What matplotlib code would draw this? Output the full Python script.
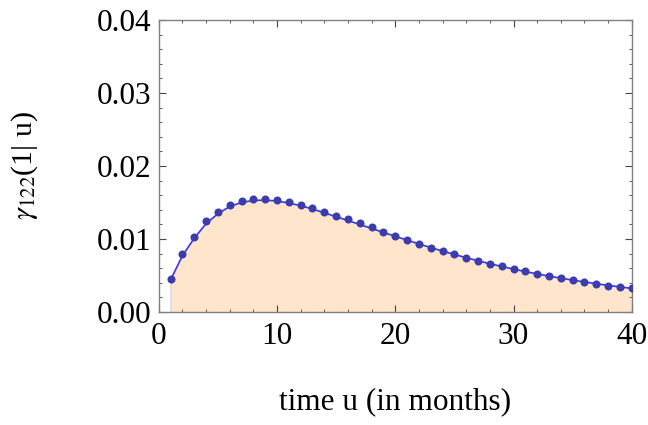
import numpy as np
import matplotlib.pyplot as plt
from matplotlib.ticker import MultipleLocator

# monthly time grid
months = list(range(1, 41))

# observed values (dots)
observed = [0.00448, 0.0079, 0.0103, 0.0124, 0.01366, 0.01466, 0.0152, 0.01548,
            0.01548, 0.01534, 0.01502, 0.01466, 0.0142, 0.01366, 0.0132, 0.01274,
            0.01215, 0.0116, 0.0110, 0.01045, 0.00986, 0.00936, 0.0088, 0.0084,
            0.00795, 0.00744, 0.00703, 0.00662, 0.00626, 0.00589, 0.00557, 0.00525,
            0.00493, 0.00462, 0.00438, 0.00415, 0.00388, 0.00356, 0.00342, 0.00325]

# fitted curve values
fitted = [0.00440, 0.0077, 0.0101, 0.0121, 0.01345, 0.01445, 0.0150, 0.01528,
          0.01532, 0.01520, 0.01492, 0.01456, 0.01410, 0.01358, 0.01305, 0.01252,
          0.01198, 0.01144, 0.01090, 0.01036, 0.00984, 0.00932, 0.00882, 0.00834,
          0.00788, 0.00743, 0.00701, 0.00661, 0.00623, 0.00587, 0.00553, 0.00521,
          0.00491, 0.00463, 0.00436, 0.00411, 0.00387, 0.00364, 0.00343, 0.00322]

plt.rcParams['font.family'] = ['Liberation Serif', 'DejaVu Serif']
plt.rcParams['mathtext.fontset'] = 'stix'

fig = plt.figure(figsize=(6.48, 4.25), dpi=100)
ax = fig.add_axes([0.245, 0.266, 0.730, 0.687])

ax.fill_between(months, fitted, 0, color='#ffe5cc', linewidth=0)
ax.plot([months[0], months[0]], [0, fitted[0]], color='#d8d8f4', lw=1.2)
ax.plot(months, fitted, color='#3434f4', lw=1.2, zorder=3)
ax.plot(months, observed, 'o', color='#3c3caa', ms=5.8, mew=0, zorder=4)

ax.set_xlim(0, 40)
ax.set_ylim(0, 0.04)
ax.xaxis.set_major_locator(MultipleLocator(10))
ax.xaxis.set_minor_locator(MultipleLocator(2))
ax.yaxis.set_major_locator(MultipleLocator(0.01))
ax.yaxis.set_minor_locator(MultipleLocator(0.002))
ax.yaxis.set_major_formatter(plt.FuncFormatter(lambda v, p: f'{v:.2f}'))

for s in ax.spines.values():
    s.set_color('#808080')
    s.set_linewidth(1.0)

ax.tick_params(which='both', direction='in', top=True, right=True,
               color='#444444', labelsize=22.5)
ax.tick_params(axis='x', pad=7)
ax.tick_params(axis='y', pad=5)
ax.tick_params(which='major', length=5, width=0.8)
ax.tick_params(which='minor', length=2.5, width=0.6)

ax.set_xlabel('time u (in months)', fontsize=22.5, va='center')
ax.xaxis.set_label_coords(0.5, -0.308)
ax.set_ylabel(r'$\gamma_{122}$(1| u)', fontsize=21.5, va='center')
ax.yaxis.set_label_coords(-0.283, 0.5)

fig.savefig('out.png', dpi=100)
